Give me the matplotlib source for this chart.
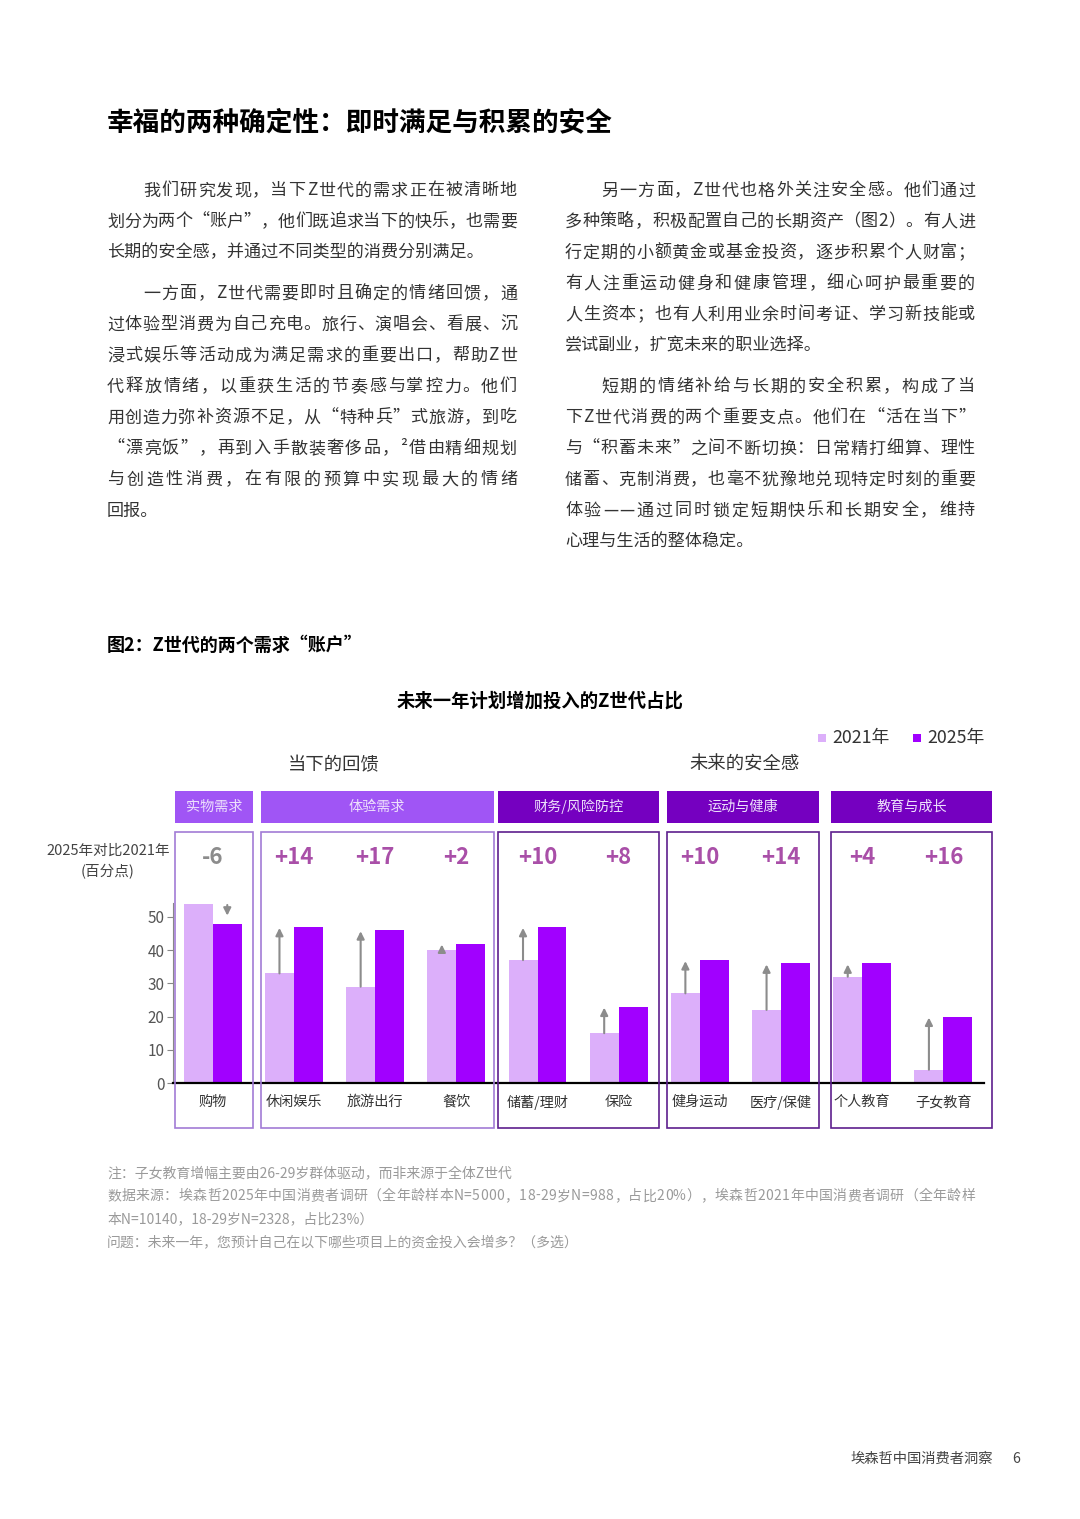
import numpy as np
import matplotlib
matplotlib.use('Agg')
import matplotlib.pyplot as plt
import matplotlib.transforms as mtransforms
from matplotlib.patches import Rectangle

plt.rcParams['font.family'] = ['Noto Sans CJK SC', 'DejaVu Sans']

# ---- data ----
categories = ['购物', '休闲娱乐', '旅游出行', '餐饮', '储蓄/理财', '保险',
              '健身运动', '医疗/保健', '个人教育', '子女教育']
v2021 = [54, 33, 29, 40, 37, 15, 27, 22, 32, 4]
v2025 = [48, 47, 46, 42, 47, 23, 37, 36, 36, 20]
groups = ['实物需求', '体验需求', '财务/风险防控', '运动与健康', '教育与成长']
group_span = [(0, 0), (1, 3), (4, 5), (6, 7), (8, 9)]
sections = ['当下的回馈', '未来的安全感']
section_groups = [(0, 1), (2, 4)]
yticks = [0, 10, 20, 30, 40, 50]

title = '幸福的两种确定性：即时满足与积累的安全'
left_col = [
    ['我们研究发现，当下Z世代的需求正在被清晰地',
     '划分为两个“账户”，他们既追求当下的快乐，也需要',
     '长期的安全感，并通过不同类型的消费分别满足。'],
    ['一方面，Z世代需要即时且确定的情绪回馈，通',
     '过体验型消费为自己充电。旅行、演唱会、看展、沉',
     '浸式娱乐等活动成为满足需求的重要出口，帮助Z世',
     '代释放情绪，以重获生活的节奏感与掌控力。他们',
     '用创造力弥补资源不足，从“特种兵”式旅游，到吃',
     '“漂亮饭”，再到入手散装奢侈品，²借由精细规划',
     '与创造性消费，在有限的预算中实现最大的情绪',
     '回报。'],
]
right_col = [
    ['另一方面，Z世代也格外关注安全感。他们通过',
     '多种策略，积极配置自己的长期资产（图2）。有人进',
     '行定期的小额黄金或基金投资，逐步积累个人财富；',
     '有人注重运动健身和健康管理，细心呵护最重要的',
     '人生资本；也有人利用业余时间考证、学习新技能或',
     '尝试副业，扩宽未来的职业选择。'],
    ['短期的情绪补给与长期的安全积累，构成了当',
     '下Z世代消费的两个重要支点。他们在“活在当下”',
     '与“积蓄未来”之间不断切换：日常精打细算、理性',
     '储蓄、克制消费，也毫不犹豫地兑现特定时刻的重要',
     '体验——通过同时锁定短期快乐和长期安全，维持',
     '心理与生活的整体稳定。'],
]
fig_caption = '图2：Z世代的两个需求“账户”'
chart_title = '未来一年计划增加投入的Z世代占比'
notes = ['注：子女教育增幅主要由26-29岁群体驱动，而非来源于全体Z世代',
         '数据来源：埃森哲2025年中国消费者调研（全年龄样本N=5000，18-29岁N=988，占比20%），埃森哲2021年中国消费者调研（全年龄样',
         '本N=10140，18-29岁N=2328，占比23%）',
         '问题：未来一年，您预计自己在以下哪些项目上的资金投入会增多？（多选）']

light = '#DCAFFA'
dark = '#A100FF'
head_light = '#A055F5'
head_dark = '#7500C0'
edge_light = '#A27BD6'
edge_dark = '#5E1F8E'
up_col = '#A94FA8'
arrow_col = '#8C8C8C'

# box padding around each group (in category units)
pad_l = [0.47, 0.41, 0.49, 0.41, 0.38]
pad_r = [0.50, 0.46, 0.50, 0.47, 0.60]

W, H = 1080, 1519
fig = plt.figure(figsize=(W / 100, H / 100), dpi=100)
renderer = fig.canvas.get_renderer()


def fx(x):
    return x / W


def fy(y):
    return 1 - y / H


_wc = {}


def char_w(ch, size, weight='normal'):
    key = (ch, size, weight)
    if key not in _wc:
        t = fig.text(0, 0, ch, fontsize=size, fontweight=weight)
        _wc[key] = t.get_window_extent(renderer).width
        t.remove()
    return _wc[key]


def put_line(s, x0, x1, yc, size, color, justify=True, weight='normal'):
    yb = yc + 0.38 * size / 0.72
    if not justify:
        fig.text(fx(x0), fy(yb), s, fontsize=size, color=color,
                 va='baseline', fontweight=weight)
        return
    ws = [char_w(c, size, weight) for c in s]
    gap = (x1 - x0 - sum(ws)) / (len(s) - 1)
    x = x0
    for c, w in zip(s, ws):
        fig.text(fx(x), fy(yb), c, fontsize=size, color=color,
                 va='baseline', fontweight=weight)
        x += w + gap


# ---- page text ----
put_line(title, 107, 640, 120, 19.2, '#000000', justify=False, weight='bold')

body_size = 12.3
body_col = '#333333'
indent = 36


def column(paras, x0, x1, y0):
    y = y0
    for p in paras:
        for i, line in enumerate(p):
            xs = x0 + indent if i == 0 else x0
            put_line(line, xs, x1, y, body_size, body_col,
                     justify=(i < len(p) - 1))
            y += 31
        y += 10


column(left_col, 107, 517, 189)
column(right_col, 565, 975, 189)

put_line(fig_caption, 107, 360, 644, 13, '#000000', justify=False, weight='bold')
fig.text(fx(540), fy(701), chart_title, fontsize=13.2, fontweight='bold',
         ha='center', va='center', color='#000000')

# legend
for xs, lab, c in [(818, '2021年', light), (913, '2025年', dark)]:
    fig.add_artist(Rectangle((fx(xs), fy(742)), 8 / W, 8 / H,
                             transform=fig.transFigure, facecolor=c,
                             edgecolor='none'))
    fig.text(fx(xs + 14), fy(738), lab, fontsize=12.8, color='#333333',
             va='center', ha='left')

# ---- chart ----
ax = fig.add_axes([fx(173), fy(1083), (984 - 173) / W, (1083 - 903) / H])
x = np.arange(len(categories))
bw = 0.357
ax.bar(x - bw / 2, v2021, bw, color=light, zorder=2)
ax.bar(x + bw / 2, v2025, bw, color=dark, zorder=2)

for k, (a, b) in enumerate(zip(v2021, v2025)):
    if b >= a:
        ax.annotate('', xy=(k - bw / 2, b - 0.3), xytext=(k - bw / 2, a),
                    arrowprops=dict(arrowstyle='-|>', color=arrow_col, lw=1.5,
                                    mutation_scale=11, shrinkA=0, shrinkB=0),
                    annotation_clip=False, zorder=3)
    else:
        ax.annotate('', xy=(k + bw / 2, b + 2.4), xytext=(k + bw / 2, a - 0.4),
                    arrowprops=dict(arrowstyle='-|>', color=arrow_col, lw=1.5,
                                    mutation_scale=11, shrinkA=0, shrinkB=0),
                    annotation_clip=False, zorder=3)

ax.set_xlim(-0.49, 9.5)
ax.set_ylim(0, 54.2)
ax.set_yticks(yticks)
ax.set_xticks([])
ax.tick_params(axis='y', labelsize=11, labelcolor='#555555', color='#888888',
               length=4, width=0.8, pad=2)
for s in ['top', 'right']:
    ax.spines[s].set_visible(False)
ax.spines['bottom'].set_color('#000000')
ax.spines['bottom'].set_linewidth(1.6)
ax.spines['bottom'].set_zorder(4)
ax.spines['left'].set_color('#888888')
ax.spines['left'].set_linewidth(0.8)

bt = mtransforms.blended_transform_factory(ax.transData, fig.transFigure)

box_l = [a - p for (a, b), p in zip(group_span, pad_l)]
box_r = [b + p for (a, b), p in zip(group_span, pad_r)]
for g, name in enumerate(groups):
    l, r = box_l[g], box_r[g]
    hc = head_light if g < 2 else head_dark
    ec = edge_light if g < 2 else edge_dark
    fig.add_artist(Rectangle((l, fy(823)), r - l, 32 / H, transform=bt,
                             facecolor=hc, edgecolor='none'))
    fig.text((l + r) / 2, fy(807), name, transform=bt, ha='center',
             va='center', fontsize=10.2, color='#EDE0FC')
    fig.add_artist(Rectangle((l, fy(1128)), r - l, (1128 - 832) / H,
                             transform=bt, facecolor='none', edgecolor=ec,
                             lw=1.2))

for (ga, gb), name in zip(section_groups, sections):
    cx = (box_l[ga] + box_r[gb]) / 2
    fig.text(cx, fy(765), name, transform=bt, ha='center', va='center',
             fontsize=13.2, color='#333333')

for k, (a, b) in enumerate(zip(v2021, v2025)):
    d = b - a
    fig.text(k, fy(857), f'{d:+d}', transform=bt, ha='center', va='center',
             fontsize=16, fontweight='bold',
             color=up_col if d > 0 else arrow_col)
    fig.text(k, fy(1102), categories[k], transform=bt, ha='center',
             va='center', fontsize=10.2, color='#333333')

fig.text(fx(108), fy(851), '2025年对比2021年', ha='center', va='center',
         fontsize=10.5, color='#444444')
fig.text(fx(108), fy(872), '(百分点)', ha='center', va='center',
         fontsize=10.5, color='#444444')

# ---- notes ----
note_col = '#9A9A9A'
put_line(notes[0], 107, 522, 1172, 10, note_col, justify=False)
put_line(notes[1], 107, 975, 1195, 10, note_col, justify=True)
put_line(notes[2], 107, 400, 1218, 10, note_col, justify=False)
put_line(notes[3], 107, 575, 1242, 10, note_col, justify=False)

fig.text(fx(993), fy(1459), '埃森哲中国消费者洞察', ha='right', va='center',
         fontsize=10.3, color='#444444')
fig.text(fx(1016), fy(1459), '6', ha='center', va='center',
         fontsize=10.3, color='#444444')

fig.savefig('out.png', dpi=100)
